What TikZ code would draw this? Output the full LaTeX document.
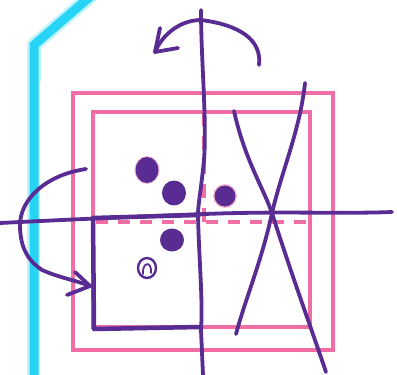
\documentclass[tikz,border=0pt]{standalone}
\usetikzlibrary{arrows.meta}
\definecolor{inkpurple}{RGB}{88,44,146}
\definecolor{inkpink}{RGB}{240,110,165}
\definecolor{inkcyan}{RGB}{40,212,246}
\tikzset{
  pen/.style={draw=inkpurple, line width=3.8pt, line cap=round, line join=round},
  pinkpen/.style={draw=inkpink, line width=3.4pt},
  dot/.style={fill=inkpurple, draw=none},
}
\begin{document}
\begin{tikzpicture}[x=1pt,y=-1pt]
\useasboundingbox (0,0) rectangle (397,375);
% cyan polyline with glow
\draw[inkcyan!30, line width=14pt, line join=miter] (34,380) -- (34,45) -- (92,-5);
\draw[inkcyan, line width=9pt, line join=miter] (34,380) -- (34,45) -- (92,-5);
% pasted sheet
\fill[white] (40,81) rectangle (397,375);
% pink rectangles
\draw[pinkpen] (73,93) rectangle (333,350);
\draw[pinkpen] (93,112) rectangle (310,327);
\draw[pinkpen, dash pattern=on 12pt off 10pt] (96,222) -- (308,222);
\draw[pinkpen, dash pattern=on 14pt off 10pt] (204,112) -- (204,228);
% dark square
\draw[pen, line width=4.5pt] (93,218) -- (94,329) -- (200,327);
\draw[pen, line width=4.5pt] (93,218) -- (199,215);
% axes
\draw[pen] (201,10) .. controls (201,60) and (207,120) .. (204,160) .. controls (201,190) and (198,205) .. (198,215) .. controls (199,260) and (203,300) .. (201,330) -- (203,375);
\draw[pen] (0,223) .. controls (80,219) and (150,216) .. (205,214) .. controls (280,211) and (340,214) .. (392,212);
% X lines
\draw[pen] (234,111) .. controls (245,160) and (262,185) .. (272,213) .. controls (290,270) and (310,325) .. (326,372);
\draw[pen] (305,83) .. controls (300,130) and (282,170) .. (272,213) .. controls (262,260) and (245,300) .. (236,334);
% top rotate arrow
\coordinate (tA) at (259,65);
\coordinate (tB) at (155,52);
\draw[pen] (tA) .. controls (262,40) and (240,25) .. (201,20) .. controls (180,20) and (162,35) .. (tB);
\draw[pen] (160,28) -- (tB) -- (178,48);
% left rotate arrow
\coordinate (lA) at (86,169);
\coordinate (lB) at (90,286);
\draw[pen] (lA) .. controls (45,175) and (20,200) .. (20,225) .. controls (20,250) and (30,262) .. (42,270) .. controls (60,278) and (75,280) .. (lB);
\draw[pen] (75,272) -- (lB) -- (67,295);
% dots
\fill[inkpink!50] (147,170) ellipse (12.5pt and 14pt);
\fill[inkpurple] (147,170) ellipse (11.5pt and 13pt);
\fill[inkpurple] (174,193) ellipse (12pt and 12.5pt);
\fill[inkpurple] (172,240) ellipse (12pt and 11.5pt);
\fill[inkpink!50] (225,196) circle (12pt);
\fill[inkpurple] (225,196) circle (10.5pt);
% small spiral
\draw[pen, line width=2.4pt] (147,268) ellipse (9pt and 10pt);
\draw[pen, line width=1.8pt] (143,274) .. controls (142,262) and (152,260) .. (151,273);
\end{tikzpicture}
\end{document}
